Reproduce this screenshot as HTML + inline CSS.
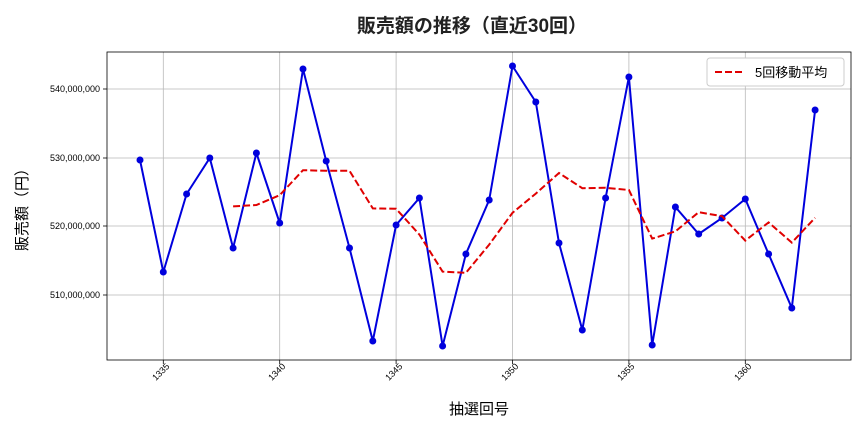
<!DOCTYPE html>
<html><head><meta charset="utf-8"><style>
body{margin:0;background:#fff;}
svg text{font-family:"Liberation Sans","Noto Sans CJK JP",sans-serif;}
</style></head><body>
<svg width="864" height="432" xmlns="http://www.w3.org/2000/svg">
<rect width="864" height="432" fill="#fff"/>
<text x="472" y="32" font-size="19" font-weight="bold" text-anchor="middle" fill="#222">販売額の推移（直近30回）</text>
<g stroke="#b8b8b8" stroke-width="0.8">
<line x1="163.3" y1="52" x2="163.3" y2="360"/><line x1="279.7" y1="52" x2="279.7" y2="360"/><line x1="396.1" y1="52" x2="396.1" y2="360"/><line x1="512.5" y1="52" x2="512.5" y2="360"/><line x1="628.9" y1="52" x2="628.9" y2="360"/><line x1="745.3" y1="52" x2="745.3" y2="360"/>
<line x1="107" y1="89" x2="851" y2="89"/><line x1="107" y1="158" x2="851" y2="158"/><line x1="107" y1="226" x2="851" y2="226"/><line x1="107" y1="295" x2="851" y2="295"/>
</g>
<rect x="107" y="52" width="744" height="308" fill="none" stroke="#000" stroke-width="0.8"/>
<g stroke="#000" stroke-width="0.8">
<line x1="103" y1="89" x2="107" y2="89"/><line x1="103" y1="158" x2="107" y2="158"/><line x1="103" y1="226" x2="107" y2="226"/><line x1="103" y1="295" x2="107" y2="295"/>
<line x1="163.3" y1="360" x2="163.3" y2="364"/><line x1="279.7" y1="360" x2="279.7" y2="364"/><line x1="396.1" y1="360" x2="396.1" y2="364"/><line x1="512.5" y1="360" x2="512.5" y2="364"/><line x1="628.9" y1="360" x2="628.9" y2="364"/><line x1="745.3" y1="360" x2="745.3" y2="364"/>
</g>
<g font-size="9" text-anchor="end" fill="#000">
<text x="100" y="92">540,000,000</text><text x="100" y="161">530,000,000</text><text x="100" y="229">520,000,000</text><text x="100" y="298">510,000,000</text>
</g>
<g font-size="9" text-anchor="end" fill="#000">
<text transform="translate(170,367) rotate(-45)">1335</text>
<text transform="translate(286,367) rotate(-45)">1340</text>
<text transform="translate(403,367) rotate(-45)">1345</text>
<text transform="translate(519,367) rotate(-45)">1350</text>
<text transform="translate(635,367) rotate(-45)">1355</text>
<text transform="translate(752,367) rotate(-45)">1360</text>
</g>
<text x="479" y="414" font-size="15" text-anchor="middle" fill="#000">抽選回号</text>
<text transform="translate(27,206) rotate(-90)" font-size="15" text-anchor="middle" fill="#000">販売額（円）</text>
<polyline fill="none" stroke="#0000dd" stroke-width="2" points="140,160 163.3,272 186.6,194 209.8,158 233.1,248 256.4,153 279.7,223 303,69 326.2,161 349.5,248 372.8,341 396.1,225 419.4,198 442.6,346 465.9,254 489.2,200 512.5,66 535.8,102 559,243 582.3,330 605.6,198 628.9,77 652.2,345 675.4,207 698.7,234 722,218 745.3,199 768.6,254 791.8,308 815.1,110"/>
<g fill="#0000dd">
<circle cx="140" cy="160" r="3.5"/><circle cx="163.3" cy="272" r="3.5"/><circle cx="186.6" cy="194" r="3.5"/><circle cx="209.8" cy="158" r="3.5"/><circle cx="233.1" cy="248" r="3.5"/><circle cx="256.4" cy="153" r="3.5"/><circle cx="279.7" cy="223" r="3.5"/><circle cx="303" cy="69" r="3.5"/><circle cx="326.2" cy="161" r="3.5"/><circle cx="349.5" cy="248" r="3.5"/><circle cx="372.8" cy="341" r="3.5"/><circle cx="396.1" cy="225" r="3.5"/><circle cx="419.4" cy="198" r="3.5"/><circle cx="442.6" cy="346" r="3.5"/><circle cx="465.9" cy="254" r="3.5"/><circle cx="489.2" cy="200" r="3.5"/><circle cx="512.5" cy="66" r="3.5"/><circle cx="535.8" cy="102" r="3.5"/><circle cx="559" cy="243" r="3.5"/><circle cx="582.3" cy="330" r="3.5"/><circle cx="605.6" cy="198" r="3.5"/><circle cx="628.9" cy="77" r="3.5"/><circle cx="652.2" cy="345" r="3.5"/><circle cx="675.4" cy="207" r="3.5"/><circle cx="698.7" cy="234" r="3.5"/><circle cx="722" cy="218" r="3.5"/><circle cx="745.3" cy="199" r="3.5"/><circle cx="768.6" cy="254" r="3.5"/><circle cx="791.8" cy="308" r="3.5"/><circle cx="815.1" cy="110" r="3.5"/>
</g>
<polyline fill="none" stroke="#e00000" stroke-width="2" stroke-dasharray="7,3" points="233.1,206.4 256.4,205 279.7,195.2 303,170.2 326.2,170.8 349.5,170.8 372.8,208.4 396.1,208.8 419.4,234.6 442.6,271.6 465.9,272.8 489.2,244.6 512.5,212.8 535.8,193.6 559,173 582.3,188.2 605.6,187.8 628.9,190 652.2,238.6 675.4,231.4 698.7,212.2 722,216.2 745.3,240.6 768.6,222.4 791.8,242.6 815.1,217.8"/>
<rect x="707" y="58" width="137" height="28" rx="3" fill="#fff" stroke="#ccc"/>
<line x1="715" y1="72" x2="745" y2="72" stroke="#e00000" stroke-width="2" stroke-dasharray="7,3"/>
<text x="755" y="77" font-size="13" fill="#000">5回移動平均</text>
</svg>
</body></html>
